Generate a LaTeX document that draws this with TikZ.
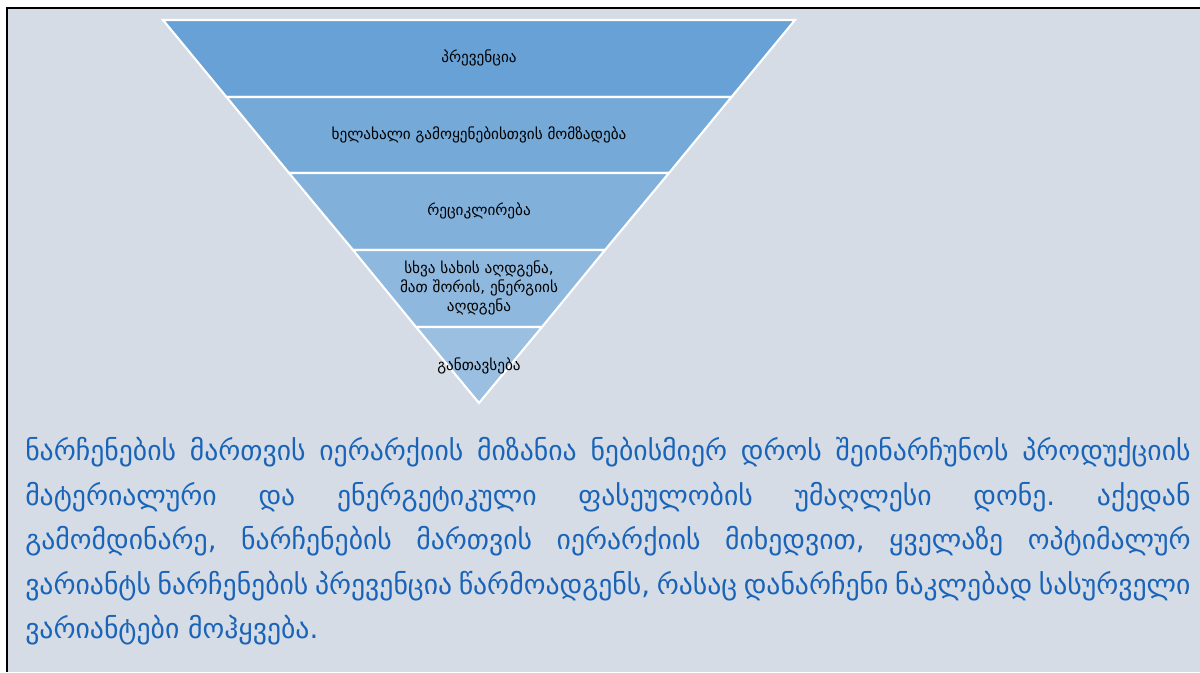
\documentclass[tikz,border=0pt]{standalone}
\usepackage{fontspec}
\newfontfamily\geofont[Script=Georgian]{DejaVu Sans}
\definecolor{pagegray}{RGB}{214,220,229}
\definecolor{bandA}{RGB}{103,161,213}
\definecolor{bandB}{RGB}{116,169,216}
\definecolor{bandC}{RGB}{129,176,219}
\definecolor{bandD}{RGB}{142,184,222}
\definecolor{bandE}{RGB}{154,191,225}
\definecolor{textblue}{RGB}{25,100,185}
\newlength{\linew}
\setlength{\linew}{29.125cm}
\frenchspacing

\begin{document}
\begin{tikzpicture}[x=0.025cm,y=-0.025cm,
    band/.style={draw=white,line width=1.5pt,line join=miter},
    level/.style={font=\geofont\fontsize{10.8}{13.5}\selectfont,align=center,inner sep=0pt},
    prose/.style={font=\geofont\fontsize{19.7}{24}\selectfont,text=textblue,anchor=west,inner sep=0pt}]
\useasboundingbox (0,0) rectangle (1200,672);
\fill [pagegray] (7,8) rectangle (1200,672);
\draw [line width=1.8pt] (7,672) -- (7,8) -- (1200,8);
% pyramid bands, widest on top
\filldraw [band,fill=bandA] (163,20) -- (795,20) -- (731.5,97) -- (226.5,97) -- cycle;
\filldraw [band,fill=bandB] (226.5,97) -- (731.5,97) -- (669,173) -- (289,173) -- cycle;
\filldraw [band,fill=bandC] (289,173) -- (669,173) -- (605,250) -- (353,250) -- cycle;
\filldraw [band,fill=bandD] (353,250) -- (605,250) -- (542,327) -- (416,327) -- cycle;
\filldraw [band,fill=bandE] (416,327) -- (542,327) -- (479,403) -- cycle;
\node [level] (prevention) at (479,58) {პრევენცია};
\node [level] (reuse) at (479,135) {ხელახალი გამოყენებისთვის მომზადება};
\node [level] (recycling) at (479,211) {რეციკლირება};
\node [level] (recovery) at (479,288) {სხვა სახის აღდგენა,\\მათ შორის, ენერგიის\\აღდგენა};
\node [level] (disposal) at (479,366) {განთავსება};
% paragraph below
\node [prose] (lineA) at (25,452) {\makebox[\linew][s]{ნარჩენების მართვის იერარქიის მიზანია ნებისმიერ დროს შეინარჩუნოს პროდუქციის}};
\node [prose] (lineB) at (25,497) {\makebox[\linew][s]{მატერიალური და ენერგეტიკული ფასეულობის უმაღლესი დონე. აქედან}};
\node [prose] (lineC) at (25,541) {\makebox[\linew][s]{გამომდინარე, ნარჩენების მართვის იერარქიის მიხედვით, ყველაზე ოპტიმალურ}};
\node [prose] (lineD) at (25,586) {\makebox[\linew][s]{ვარიანტს ნარჩენების პრევენცია წარმოადგენს, რასაც დანარჩენი ნაკლებად სასურველი}};
\node [prose] (lineE) at (25,630) {ვარიანტები მოჰყვება.};
\end{tikzpicture}
\end{document}
